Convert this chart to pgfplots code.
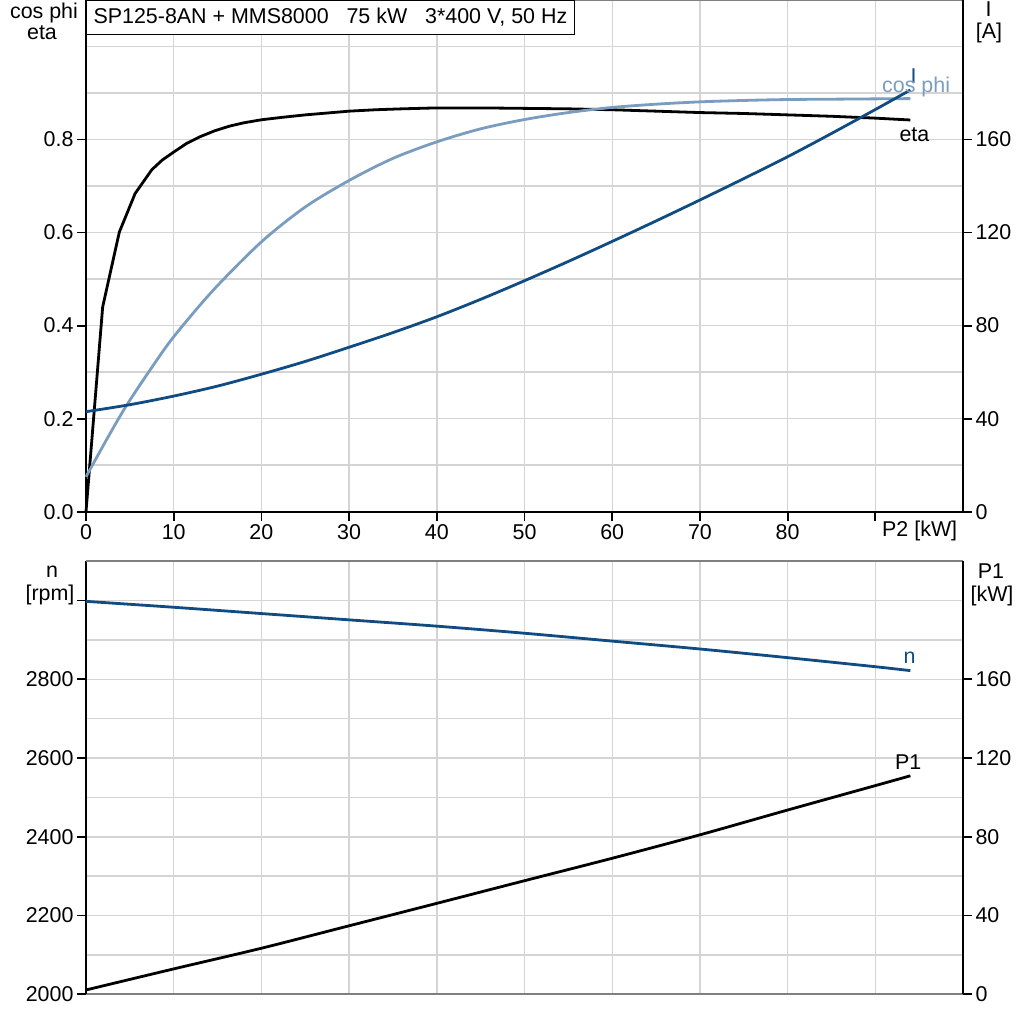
\documentclass[border=0pt]{standalone}
\usepackage{fontspec}
\setmainfont{Liberation Sans}
\usepackage{pgfplots}
\pgfplotsset{compat=1.18}
\definecolor{dblue}{RGB}{16,76,130}
\definecolor{lblue}{RGB}{122,157,191}
\definecolor{gridgray}{RGB}{212,212,212}
\definecolor{bordergray}{RGB}{128,128,128}
\pgfplotsset{
 base/.style={scale only axis, width=877bp, xmin=0, xmax=100, anchor=south west,
   tick align=outside, major tick length=9bp, minor tick length=0pt,
   tick style={black, line width=1.8bp},
   axis line style={black, line width=2bp, -},
   ticklabel style={font=\fontsize{21.5}{24}\selectfont},
   /pgf/number format/assume math mode=true,
   grid style={gridgray, line width=1.4bp},
   minor grid style={gridgray, line width=1.4bp},
   clip=false,
 },
}
\begin{document}
\begin{tikzpicture}[x=1bp,y=1bp]
\useasboundingbox (0,0) rectangle (1024,1024);
% ---------- top chart ----------
\begin{axis}[base, at={(86bp,512.3bp)}, height=511.7bp, ymin=0, ymax=1.1,
  axis x line*=bottom, axis y line*=left,
  xtick={0,10,20,30,40,50,60,70,80,90}, xticklabels={0,10,20,30,40,50,60,70,80,{}},
  ytick={0,0.2,0.4,0.6,0.8}, minor ytick={0.1,0.3,0.5,0.7,0.9,1.0},
  xmajorgrids, ymajorgrids, yminorgrids,
  yticklabel style={/pgf/number format/.cd,fixed,fixed zerofill,precision=1}]
\draw[bordergray, line width=1.6bp] (rel axis cs:0,1) -- (rel axis cs:1,1);
% eta
\addplot[black, line width=2.8bp, line join=round] table {
0 0
1.9 0.44
3.8 0.601
5.6 0.684
7.5 0.735
8.7 0.756
10 0.773
11.5 0.792
13 0.806
14.7 0.819
16.4 0.829
18 0.836
20 0.8425
22.5 0.848
25 0.853
27.5 0.857
30 0.861
33 0.864
36 0.866
40 0.868
45 0.868
50 0.867
55 0.866
60 0.864
65 0.861
70 0.858
75 0.856
80 0.853
85 0.850
90 0.846
94 0.842
};
% cos phi
\addplot[lblue, line width=2.8bp, smooth] table {
0 0.075
2.5 0.16
4.64 0.229
7.5 0.31
10 0.376
14.5 0.476
20 0.58
25 0.655
30 0.712
35 0.7595
40 0.795
45 0.823
50 0.843
55 0.858
60 0.869
65 0.876
70 0.881
75 0.884
80 0.886
87 0.887
94 0.888
};
\end{axis}
\begin{axis}[base, at={(86bp,512.3bp)}, height=511.7bp, ymin=0, ymax=220,
  axis y line*=right, axis x line=none, xtick=\empty,
  ytick={0,40,80,120,160}]
% I
\addplot[dblue, line width=2.8bp, smooth] table {
0 43
5 46
10 49.7
15 54
20 59.1
25 64.6
30 70.7
35 77
40 83.8
45 91.3
50 99.3
55 107.6
60 116.2
65 125
70 134
75 143.2
80 152.6
85 162.6
90 172.9
94 181.3
};
\end{axis}
% ---------- bottom chart ----------
\begin{axis}[base, at={(86bp,29.7bp)}, height=433.1bp, ymin=2000, ymax=3100,
  axis x line*=bottom, axis y line*=left, x axis line style={bordergray, line width=1.6bp},
  xtick={0,10,20,30,40,50,60,70,80,90}, xticklabels={}, xtick style={draw=none},
  ytick={2000,2200,2400,2600,2800,3000}, yticklabels={2000,2200,2400,2600,2800,{}},
  minor ytick={2100,2300,2500,2700,2900},
  xmajorgrids, ymajorgrids, yminorgrids]
\draw[bordergray, line width=1.6bp] (rel axis cs:0,1) -- (rel axis cs:1,1);
% n
\addplot[dblue, line width=2.8bp, smooth] table {
0 2998
10 2983
20 2967
30 2951
40 2935
50 2917
60 2897
70 2877
80 2855
90 2832
94 2822
};
\end{axis}
\begin{axis}[base, at={(86bp,29.7bp)}, height=433.1bp, ymin=0, ymax=220,
  axis y line*=right, axis x line=none, xtick=\empty,
  ytick={0,40,80,120,160}]
% P1
\addplot[black, line width=2.8bp, smooth] table {
0 2.2
10 12.9
20 23.4
30 34.8
40 46.2
50 57.7
60 69.1
70 81
80 93.6
90 106
94 111
};
\end{axis}
% ---------- texts ----------
\begin{scope}[every node/.style={font=\fontsize{21.5}{24}\selectfont, inner sep=0pt}]
\node[draw=black, line width=1.2bp, fill=white, anchor=north west, inner xsep=7bp,
  minimum height=34bp] at (86,1024) {SP125-8AN + MMS8000\ \ \ 75 kW\ \ \ 3*400 V, 50 Hz};
\node[anchor=base] at (44,1005) {cos phi};
\node[anchor=base] at (42,984) {eta};
\node[anchor=base] at (988.5,1007.3) {I};
\node[anchor=base] at (989,985) {[A]};
\node[anchor=base] at (52,446) {n};
\node[anchor=base] at (50,423) {[rpm]};
\node[anchor=base] at (991,445) {P1};
\node[anchor=base] at (992,422.3) {[kW]};
\node[anchor=base west] at (882,487) {P2 [kW]};
\node[anchor=base, text=dblue] at (913.5,940.7) {I};
\node[anchor=base west, text=lblue] at (882,931.3) {cos phi};
\node[anchor=base west] at (899.3,882.3) {eta};
\node[anchor=base west, text=dblue] at (903.3,360.7) {n};
\node[anchor=base west] at (895,254) {P1};
\end{scope}
\end{tikzpicture}
\end{document}
